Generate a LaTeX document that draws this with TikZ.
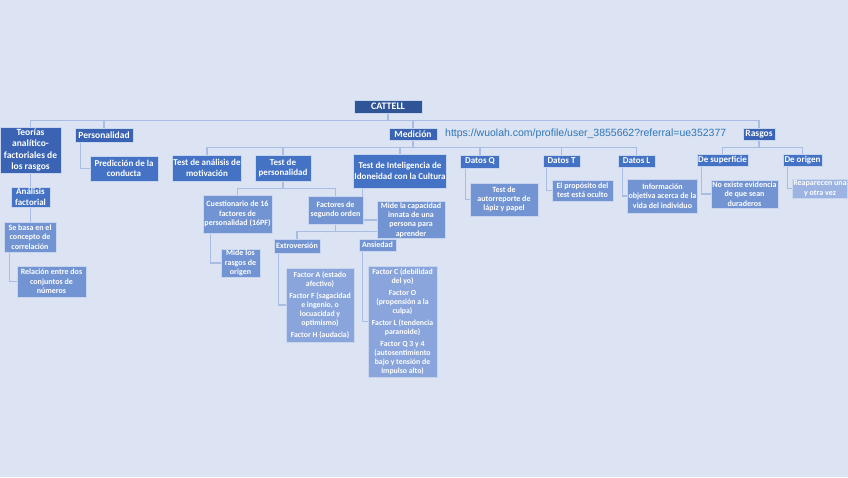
\documentclass[tikz,border=0pt]{standalone}
\usepackage{fontspec}
\setmainfont{Carlito}
\newfontfamily\ctlinkfont{Liberation Sans}
\usepackage{tikz}
\usetikzlibrary{backgrounds,positioning}
\definecolor{ctPage}{HTML}{DCE4F3}
\definecolor{ctRoot}{HTML}{2F5597}
\definecolor{ctMain}{HTML}{3A64B3}
\definecolor{ctMid}{HTML}{4472C4}
\definecolor{ctSoft}{HTML}{7394D2}
\definecolor{ctPale}{HTML}{8AA5DC}
\definecolor{ctFaint}{HTML}{9DB3E2}
\definecolor{ctEdge}{HTML}{C8D5EF}
\definecolor{ctLine}{HTML}{A9BDE4}
\definecolor{ctUrl}{HTML}{2E75B6}
\tikzset{
  ct diagram/.style={x=1pt, y=-1pt},
  ct box/.style={draw=ctEdge, line width=0.7pt, text=white, align=center,
    inner sep=1pt, font=\bfseries\fontsize{8}{9.3}\selectfont},
  ct root/.style={ct box, fill=ctRoot, font=\bfseries\fontsize{10}{12}\selectfont},
  ct main/.style={ct box, fill=ctMain, font=\bfseries\fontsize{9.5}{11.3}\selectfont},
  ct mid/.style={ct box, fill=ctMid, font=\bfseries\fontsize{9}{10.5}\selectfont},
  ct soft/.style={ct box, fill=ctSoft},
  ct pale/.style={ct box, fill=ctPale},
  ct factor/.style={ct pale, font=\bfseries\fontsize{7.8}{9}\selectfont},
  ct size/.style 2 args={minimum width=#1pt, minimum height=#2pt},
  ct link/.style={draw=ctLine, line width=1.1pt}
}

\begin{document}
\begin{tikzpicture}[ct diagram]
\useasboundingbox (0,0) rectangle (848,477);

% top of the map
\node[ct root, ct size={68}{13}] (cattell) at (388,106.5) {CATTELL};
\node[ct main, ct size={61}{46}] (teorias) at (30.5,150) {Teorías\\analítico-\\factoriales de\\los rasgos};
\node[ct main, ct size={58}{14}] (personalidad) at (104,135) {Personalidad};
\node[ct main, ct size={48}{12}] (medicion) at (413,134) {Medición};
\node[ct main, ct size={32}{12}] (rasgos) at (759,134) {Rasgos};
\node[font=\ctlinkfont\fontsize{10.5}{12}\selectfont, text=ctUrl, anchor=west, inner sep=0pt]
  (weblink) at (445,134) {https://wuolah.com/profile/user\_3855662?referral=ue352377};

% second row
\node[ct mid, ct size={39}{20}] (factorial) at (30.5,197) {Análisis\\factorial};
\node[ct mid, ct size={68}{25}] (prediccion) at (124,168.5) {Predicción de la\\conducta};
\node[ct mid, ct size={68}{26}] (motivacion) at (207,168) {Test de análisis de\\motivación};
\node[ct mid, ct size={56}{26}] (testpers) at (283,168) {Test de\\personalidad};
\node[ct mid, ct size={92}{34}] (inteligencia) at (400,171) {Test de Inteligencia de\\Idoneidad con la Cultura};
\node[ct mid, ct size={39}{13}] (datosq) at (480,161.5) {Datos Q};
\node[ct mid, ct size={37}{12}] (datost) at (561.5,161) {Datos T};
\node[ct mid, ct size={37}{12}] (datosl) at (636.5,161) {Datos L};
\node[ct mid, ct size={51}{12}] (superficie) at (722.5,160) {De superficie};
\node[ct mid, ct size={39}{12}] (origen) at (802.5,160) {De origen};

% third row
\node[ct soft, ct size={52}{30}] (sebasa) at (30,237) {Se basa en el\\concepto de\\correlación};
\node[ct soft, ct size={69}{31}] (relacion) at (51.5,281.5) {Relación entre dos\\conjuntos de\\números};
\node[ct soft, ct size={69}{38}] (cuestionario) at (237.5,214) {Cuestionario de 16\\factores de\\personalidad (16PF)};
\node[ct soft, ct size={39}{28}] (miderasgos) at (240.5,263) {Mide los\\rasgos de\\origen};
\node[ct soft, ct size={55}{28}] (segundo) at (335.5,210) {Factores de\\segundo orden};
\node[ct soft, ct size={68}{34}] (capacidad) at (411,220) {Mide la capacidad\\innata de una\\persona para\\aprender};
\node[ct soft, ct size={46}{14}] (extroversion) at (297,246) {Extroversión};
\node[ct soft, ct size={37}{12}] (ansiedad) at (377.5,245) {Ansiedad};
\node[ct soft, ct size={68}{33}] (autorreporte) at (504,199.5) {Test de\\autorreporte de\\lápiz y papel};
\node[ct soft, ct size={61}{21}] (proposito) at (582.5,190.5) {El propósito del\\test está oculto};
\node[ct soft, ct size={69}{34}] (informacion) at (662.5,196) {Información\\objetiva acerca de la\\vida del individuo};
\node[ct soft, ct size={67}{28}] (noexiste) at (744.5,194) {No existe evidencia\\de que sean\\duraderos};
\node[ct box, fill=ctFaint, ct size={54}{19}] (reaparecen) at (820,188.5) {Reaparecen una\\y otra vez};

% factor lists
\node[ct factor, ct size={68}{74}] (factora) at (320,305)
  {Factor A (estado\\afectivo)\\[3pt]Factor F (sagacidad\\e ingenio, o\\locuacidad y\\optimismo)\\[3pt]Factor H (audacia)};
\node[ct factor, ct size={69}{111}] (factorc) at (402.5,321.5)
  {Factor C (debilidad\\del yo)\\[3pt]Factor O\\(propensión a la\\culpa)\\[3pt]Factor L (tendencia\\paranoide)\\[3pt]Factor Q 3 y 4\\(autosentimiento\\bajo y tensión de\\impulso alto)};

% connectors, behind the boxes
\begin{scope}[on background layer]
\fill[ctPage] (0,0) rectangle (848,477);
\foreach \kid in {teorias,personalidad,medicion,rasgos}
  \draw[ct link] (cattell.south) -- ++(0,7) -| (\kid.north);
\foreach \kid in {motivacion,testpers,inteligencia,datosq,datost,datosl}
  \draw[ct link] (medicion.south) -- ++(0,7) -| (\kid.north);
\foreach \kid in {cuestionario,segundo}
  \draw[ct link] (testpers.south) -- ++(0,7) -| (\kid.north);
\foreach \kid in {extroversion,ansiedad}
  \draw[ct link] (segundo.south) -- ++(0,7) -| (\kid.north);
\foreach \kid in {superficie,origen}
  \draw[ct link] (rasgos.south) -- ++(0,7) -| (\kid.north);
\draw[ct link] (teorias.south) -- (teorias.south |- factorial.north);
\draw[ct link] (factorial.south) -- (factorial.south |- sebasa.north);
\draw[ct link] ([xshift=6pt]sebasa.south west) |- (relacion.west);
\draw[ct link] ([xshift=6pt]personalidad.south west) |- (prediccion.west);
\draw[ct link] ([xshift=8pt]cuestionario.south west) |- (miderasgos.west);
\draw[ct link] ([xshift=9pt]inteligencia.south west) |- (capacidad.west);
\draw[ct link] ([xshift=5pt]extroversion.south west) |- (factora.west);
\draw[ct link] ([xshift=4pt]ansiedad.south west) |- (factorc.west);
\draw[ct link] ([xshift=5pt]datosq.south west) |- (autorreporte.west);
\draw[ct link] ([xshift=4pt]datost.south west) |- (proposito.west);
\draw[ct link] ([xshift=5pt]datosl.south west) |- (informacion.west);
\draw[ct link] ([xshift=5pt]superficie.south west) |- (noexiste.west);
\draw[ct link] ([xshift=5pt]origen.south west) |- (reaparecen.west);
\end{scope}
\end{tikzpicture}
\end{document}
